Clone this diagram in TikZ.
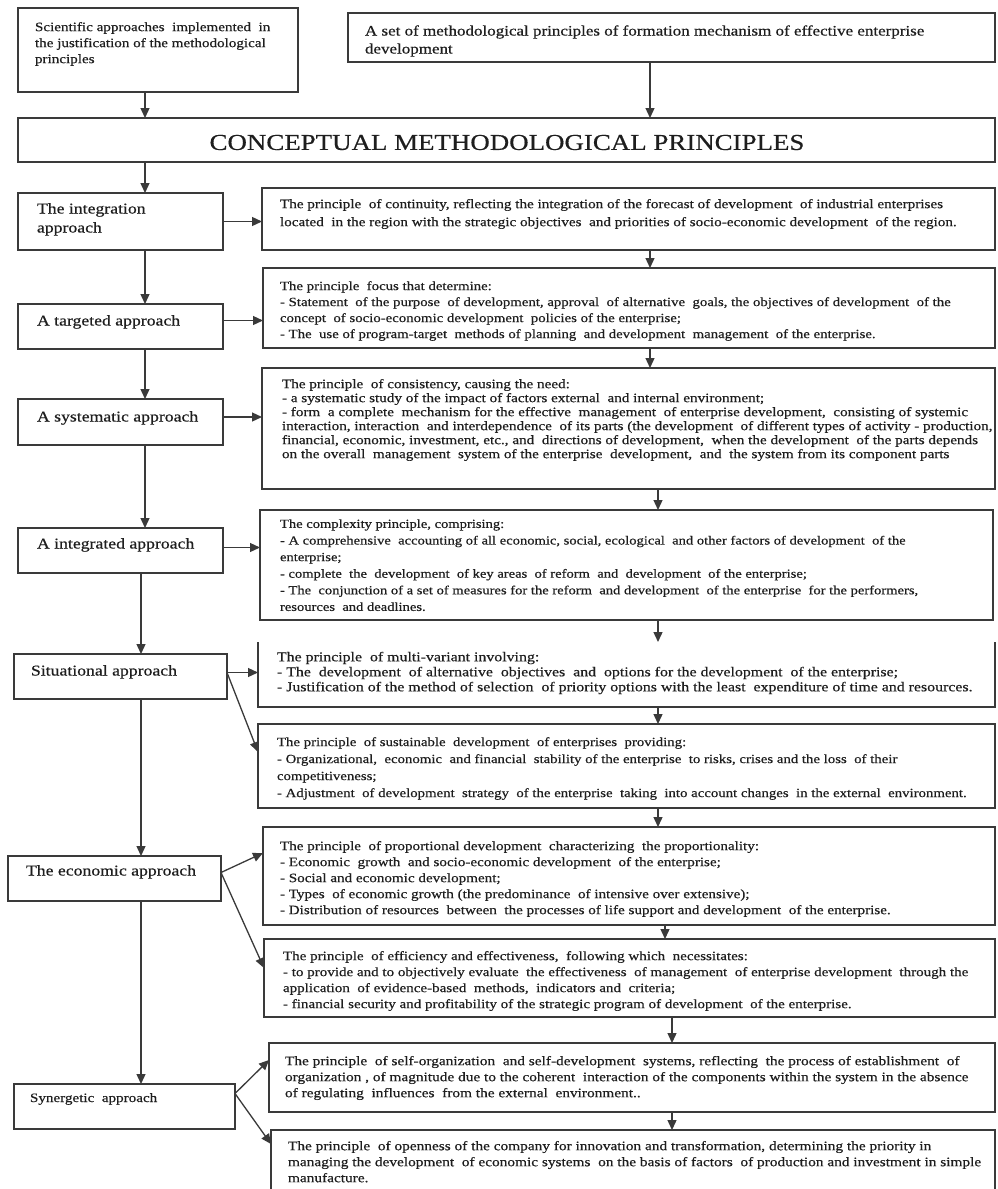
\documentclass[tikz,border=0pt]{standalone}
\usepackage{fontspec}
\setmainfont{Liberation Serif}[FakeStretch=1.18,FakeBold=0.5]
\usetikzlibrary{arrows.meta,calc}
\definecolor{lc}{HTML}{3A3A3A}
\definecolor{tc}{HTML}{1E1E1E}
\newcommand\mkbox[6][]{\node[bx,#1,minimum width={(#5-#3)*1pt},minimum height={(#6-#4)*1pt}] (#2) at ({(#3+#5)/2},{(#4+#6)/2}) {};}
\newcommand\mktext[6]{\node[tx,font=\fontsize{#4}{#5}\selectfont] (#1) at ({#2},{#3-0.46*#4}) {#6};}
\begin{document}
\begin{tikzpicture}[x=1pt,y=-1pt,
  bx/.style={draw=lc,line width=1.3pt,outer sep=0pt,inner sep=0pt},
  tx/.style={anchor=north west,inner sep=0pt,outer sep=0pt,align=left,text=tc},
  ar/.style={draw=lc,line width=1.3pt,-{Triangle[length=10pt,width=9pt]}},
  edge3/.style={draw=lc,line width=1.3pt}]
\fill[white] (0,0) rectangle (997,1189);
\useasboundingbox (0,0) rectangle (997,1189);
% boxes
\mkbox{b1}{18}{8}{298}{92}
\mkbox{b2}{348}{13}{995}{62}
\mkbox{cp}{18}{118}{995}{162}
\mkbox{L1}{18}{193}{223}{250}
\mkbox{R1}{262}{188}{995}{250}
\mkbox{L2}{18}{304}{223}{349}
\mkbox{R2}{263}{268}{995}{348}
\mkbox{L3}{18}{399}{223}{445}
\mkbox{R3}{262}{368}{995}{489}
\mkbox{L4}{18}{528}{223}{573}
\mkbox{R4}{260}{510}{993}{620}
\mkbox{L5}{14}{654}{227}{699}
\mkbox[draw=none]{R5}{258}{642}{995}{707}
\draw[edge3] (R5.north west) -- (R5.south west) -- (R5.south east) -- (R5.north east);
\mkbox{R6}{258}{724}{995}{808}
\mkbox{L6}{8}{856}{221}{901}
\mkbox{R7}{263}{827}{995}{925}
\mkbox{R8}{264}{939}{995}{1017}
\mkbox{L7}{14}{1084}{235}{1129}
\mkbox{R9}{269}{1043}{995}{1112}
\mkbox[draw=none]{R10}{271}{1130}{995}{1200}
\draw[edge3] (R10.south west) -- (R10.north west) -- (R10.north east) -- (R10.south east);
% texts
\mktext{t1}{35}{28}{12.8}{16}{Scientific approaches\ \ implemented\ \ in\\the justification of the methodological\\principles}
\mktext{t2}{365}{32}{14.4}{18}{A set of methodological principles of formation mechanism of effective enterprise\\development}
\node[inner sep=0pt,text=tc,font=\fontsize{22.8}{26}\selectfont] (hd) at (507,142.5) {CONCEPTUAL METHODOLOGICAL PRINCIPLES};
\mktext{tL1}{37}{210}{15}{19}{The integration\\approach}
\mktext{tL2}{37}{322}{15}{19}{A targeted approach}
\mktext{tL3}{37}{418}{15}{19}{A systematic approach}
\mktext{tL4}{37}{545}{15}{19}{A integrated approach}
\mktext{tL5}{31}{672}{15}{19}{Situational approach}
\mktext{tL6}{26}{872}{15}{19}{The economic approach}
\mktext{tL7}{30}{1099}{12.8}{16}{Synergetic\ \ approach}
\mktext{tR1}{280}{205}{12.85}{18}{The principle\ \ of continuity, reflecting the integration of the forecast of development\ \ of industrial enterprises\\located\ \ in the region with the strategic objectives\ \ and priorities of socio-economic development\ \ of the region.}
\mktext{tR2}{280}{287}{12.55}{16}{The principle\ \ focus that determine:\\- Statement\ \ of the purpose\ \ of development, approval\ \ of alternative\ \ goals, the objectives of development\ \ of the\\concept\ \ of socio-economic development\ \ policies of the enterprise;\\- The\ \ use of program-target\ \ methods of planning\ \ and development\ \ management\ \ of the enterprise.}
\mktext{tR3}{282}{385}{12.85}{14}{The principle\ \ of consistency, causing the need:\\- a systematic study of the impact of factors external\ \ and internal environment;\\- form\ \ a complete\ \ mechanism for the effective\ \ management\ \ of enterprise development,\ \ consisting of systemic\\interaction, interaction\ \ and interdependence\ \ of its parts (the development\ \ of different types of activity - production,\\financial, economic, investment, etc., and\ \ directions of development,\ \ when the development\ \ of the parts depends\\on the overall\ \ management\ \ system of the enterprise\ \ development,\ \ and\ \ the system from its component parts}
\mktext{tR4}{280}{525}{12.35}{16.6}{The complexity principle, comprising:\\- A comprehensive\ \ accounting of all economic, social, ecological\ \ and other factors of development\ \ of the\\enterprise;\\- complete\ \ the\ \ development\ \ of key areas\ \ of reform\ \ and\ \ development\ \ of the enterprise;\\- The\ \ conjunction of a set of measures for the reform\ \ and development\ \ of the enterprise\ \ for the performers,\\resources\ \ and deadlines.}
\mktext{tR5}{277}{658}{13.45}{15}{The principle\ \ of multi-variant involving:\\- The\ \ development\ \ of alternative\ \ objectives\ \ and\ \ options for the development\ \ of the enterprise;\\- Justification of the method of selection\ \ of priority options with the least\ \ expenditure of time and resources.}
\mktext{tR6}{277}{743}{12.55}{17}{The principle\ \ of sustainable\ \ development\ \ of enterprises\ \ providing:\\- Organizational,\ \ economic\ \ and financial\ \ stability of the enterprise\ \ to risks, crises and the loss\ \ of their\\competitiveness;\\- Adjustment\ \ of development\ \ strategy\ \ of the enterprise\ \ taking\ \ into account changes\ \ in the external\ \ environment.}
\mktext{tR7}{280}{847}{12.8}{16}{The principle\ \ of proportional development\ \ characterizing\ \ the proportionality:\\- Economic\ \ growth\ \ and socio-economic development\ \ of the enterprise;\\- Social and economic development;\\- Types\ \ of economic growth (the predominance\ \ of intensive over extensive);\\- Distribution of resources\ \ between\ \ the processes of life support and development\ \ of the enterprise.}
\mktext{tR8}{283}{957}{12.75}{16}{The principle\ \ of efficiency and effectiveness,\ \ following which\ \ necessitates:\\- to provide and to objectively evaluate\ \ the effectiveness\ \ of management\ \ of enterprise development\ \ through the\\application\ \ of evidence-based\ \ methods,\ \ indicators and\ \ criteria;\\- financial security and profitability of the strategic program of development\ \ of the enterprise.}
\mktext{tR9}{285}{1062}{13}{16}{The principle\ \ of self-organization\ \ and self-development\ \ systems, reflecting\ \ the process of establishment\ \ of\\organization , of magnitude due to the coherent\ \ interaction of the components within the system in the absence\\of regulating\ \ influences\ \ from the external\ \ environment..}
\mktext{tR10}{288}{1147}{13}{16}{The principle\ \ of openness of the company for innovation and transformation, determining the priority in\\managing the development\ \ of economic systems\ \ on the basis of factors\ \ of production and investment in simple\\manufacture.}
% column coordinates
\coordinate (xA) at (145,0);
\coordinate (xB) at (650,0);
\coordinate (xC) at (658,0);
\coordinate (xD) at (665,0);
\coordinate (xE) at (672,0);
\coordinate (xF) at (141,0);
% vertical arrows
\draw[ar] (b1.south -| xA) -- (cp.north -| xA);
\draw[ar] (b2.south -| xB) -- (cp.north -| xB);
\draw[ar] (cp.south -| xA) -- (L1.north -| xA);
\draw[ar] (L1.south -| xA) -- (L2.north -| xA);
\draw[ar] (L2.south -| xA) -- (L3.north -| xA);
\draw[ar] (L3.south -| xA) -- (L4.north -| xA);
\draw[ar] (L4.south -| xF) -- (L5.north -| xF);
\draw[ar] (L5.south -| xF) -- (L6.north -| xF);
\draw[ar] (L6.south -| xF) -- (L7.north -| xF);
\draw[ar] (R1.south -| xB) -- (R2.north -| xB);
\draw[ar] (R2.south -| xB) -- (R3.north -| xB);
\draw[ar] (R3.south -| xC) -- (R4.north -| xC);
\draw[ar] (R4.south -| xC) -- (R5.north -| xC);
\draw[ar] (R5.south -| xC) -- (R6.north -| xC);
\draw[ar] (R6.south -| xC) -- (R7.north -| xC);
\draw[ar] (R7.south -| xD) -- (R8.north -| xD);
\draw[ar] (R8.south -| xE) -- (R9.north -| xE);
\draw[ar] (R9.south -| xE) -- (R10.north -| xE);
% horizontal / diagonal arrows
\coordinate (s1) at ($(L1.east)+(0,0)$);
\coordinate (s2) at ($(L2.east)+(0,-6)$);
\coordinate (s3) at ($(L3.east)+(0,-5)$);
\coordinate (s4) at ($(L4.east)+(0,-3)$);
\coordinate (s5) at ($(L5.east)+(0,-4)$);
\coordinate (s6) at ($(L6.east)+(0,-6)$);
\coordinate (s7) at ($(L7.east)+(0,-13)$);
\draw[ar] (s1) -- (R1.west |- s1);
\draw[ar] (s2) -- (R2.west |- s2);
\draw[ar] (s3) -- (R3.west |- s3);
\draw[ar] (s4) -- (R4.west |- s4);
\draw[ar] (s5) -- (R5.west |- s5);
\draw[ar] (s5) -- ($(R6.north west)+(0,28)$);
\draw[ar] (s6) -- ($(R7.north west)+(0,26)$);
\draw[ar] (s6) -- ($(R8.north west)+(0,29)$);
\draw[ar] (s7) -- ($(R9.north west)+(0,17)$);
\draw[ar] (s7) -- ($(R10.north west)+(0,14)$);
\end{tikzpicture}
\end{document}
